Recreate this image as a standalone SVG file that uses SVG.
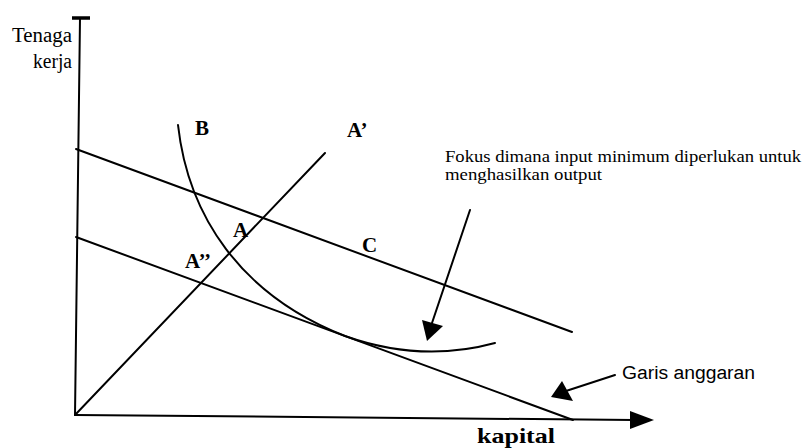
<svg xmlns="http://www.w3.org/2000/svg" width="803" height="448" viewBox="0 0 803 448">
<style>
.ln{fill:none;stroke:#000;stroke-width:2;stroke-linecap:round}
.lbl{font-family:"Liberation Serif",serif;font-weight:bold;font-size:21px;fill:#000}
.txt{font-family:"Liberation Serif",serif;fill:#000}
.sans{font-family:"Liberation Sans",Arial,sans-serif;fill:#000}
</style>
<rect width="803" height="448" fill="#fff"/>
<g id="axes">
<line class="ln" x1="80" y1="18" x2="75" y2="415"/>
<line x1="72" y1="18" x2="90" y2="18" stroke="#000" stroke-width="3.5"/>
<line class="ln" x1="75" y1="415" x2="634" y2="420"/>
<polygon points="630,411 654,420 630,429" fill="#000"/>
<text class="txt" x="12" y="42" font-size="20" textLength="60" lengthAdjust="spacingAndGlyphs">Tenaga</text>
<text class="txt" x="33" y="68" font-size="20" textLength="39" lengthAdjust="spacingAndGlyphs">kerja</text>
<text class="lbl" x="477" y="443" font-size="21" textLength="78" lengthAdjust="spacingAndGlyphs">kapital</text>
</g>
<g id="connectors">
<line id="budget-upper" class="ln" x1="76" y1="149" x2="572" y2="332"/>
<line id="budget-lower" class="ln" x1="76" y1="237" x2="573" y2="420"/>
<line id="ray" class="ln" x1="75" y1="415" x2="325" y2="153"/>
<path id="isoquant" class="ln" d="M178,125 C188,215 240,295 345,336 C390,352 440,358 495,343"/>
</g>
<g id="label-B"><text class="lbl" x="195" y="135">B</text></g>
<g id="label-A1"><text class="lbl" x="347" y="137">A’</text></g>
<g id="label-A"><text class="lbl" x="233" y="237">A</text></g>
<g id="label-A2"><text class="lbl" x="185" y="268">A’’</text></g>
<g id="label-C"><text class="lbl" x="362" y="252">C</text></g>
<g id="note-fokus">
<text class="txt" x="445" y="162" font-size="16" textLength="356" lengthAdjust="spacingAndGlyphs">Fokus dimana input minimum diperlukan untuk</text>
<text class="txt" x="445" y="180" font-size="16" textLength="157" lengthAdjust="spacingAndGlyphs">menghasilkan output</text>
<line class="ln" x1="470" y1="210" x2="432" y2="323"/>
<polygon points="422,320 443,326 427,341" fill="#000"/>
</g>
<g id="note-garis">
<text class="sans" x="622" y="379" font-size="18" textLength="133" lengthAdjust="spacingAndGlyphs">Garis anggaran</text>
<line class="ln" x1="615" y1="375" x2="566" y2="391"/>
<polygon points="551,397 562,381 573,401" fill="#000"/>
</g>
</svg>
